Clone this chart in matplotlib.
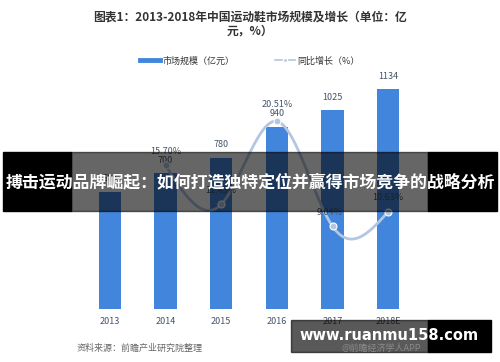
import numpy as np
import matplotlib
matplotlib.use("Agg")
import matplotlib.pyplot as plt
from matplotlib.patches import Rectangle
from matplotlib.lines import Line2D

plt.rcParams["font.family"] = ["Noto Sans CJK SC", "DejaVu Sans"]

years = ["2013", "2014", "2015", "2016", "2017", "2018E"]
market_size = [605, 700, 780, 940, 1025, 1134]
growth = [None, 15.70, 11.43, 20.51, 9.04, 10.63]
growth_labels = ["", "15.70%", "11.43%", "20.51%", "9.04%", "10.63%"]

BAR_C = "#4285dc"
LINE_C = "#b3c6e2"
LBL_C = "#44546a"


def natural_spline(x, y, n=200):
    x = np.asarray(x, float)
    y = np.asarray(y, float)
    k = len(x)
    h = np.diff(x)
    A = np.zeros((k, k))
    b = np.zeros(k)
    A[0, 0] = A[-1, -1] = 1
    for i in range(1, k - 1):
        A[i, i - 1] = h[i - 1]
        A[i, i] = 2 * (h[i - 1] + h[i])
        A[i, i + 1] = h[i]
        b[i] = 6 * ((y[i + 1] - y[i]) / h[i] - (y[i] - y[i - 1]) / h[i - 1])
    m = np.linalg.solve(A, b)
    xs = np.linspace(x[0], x[-1], n)
    ys = np.empty_like(xs)
    for j, t in enumerate(xs):
        i = min(np.searchsorted(x, t, side="right") - 1, k - 2)
        a = x[i + 1] - t
        c = t - x[i]
        ys[j] = (m[i] * a ** 3 + m[i + 1] * c ** 3) / (6 * h[i]) \
            + (y[i] / h[i] - m[i] * h[i] / 6) * a \
            + (y[i + 1] / h[i] - m[i + 1] * h[i] / 6) * c
    return xs, ys


fig = plt.figure(figsize=(5, 3.62), dpi=100)
W, H = 500, 362
ax = fig.add_axes([82 / W, 53 / H, 334 / W, 229 / H])
x = np.arange(len(years))
ax.bar(x, market_size, width=0.4, color=BAR_C, zorder=2)
ax.set_xlim(-0.5, 5.5)
ax.set_ylim(0, 1180)
for xi, v in zip(x, market_size):
    ax.annotate(str(v), (xi, v), xytext=(0, 6), textcoords="offset points",
                ha="center", va="bottom", fontsize=6.5, color=LBL_C)
ax.set_xticks(x)
ax.set_xticklabels(years, fontsize=6.5, color=LBL_C)
ax.tick_params(axis="x", length=0, pad=6)
ax.set_yticks([])
for s in ax.spines.values():
    s.set_visible(False)

ax2 = ax.twinx()
ax2.set_ylim(0, 25.03)
ax2.set_yticks([])
for s in ax2.spines.values():
    s.set_visible(False)
gx = [xi for xi, g in zip(x, growth) if g is not None]
gy = [g for g in growth if g is not None]
sx, sy = natural_spline(gx, gy)
ax2.plot(sx, sy, color=LINE_C, lw=2, zorder=3)
ax2.plot(gx, gy, "o", ms=5, color=LINE_C, mec="white", mew=0.8, zorder=4)
for xi, g, lab in zip(x, growth, growth_labels):
    if g is None:
        continue
    dy = 9 if g > 20 else 7
    ax2.annotate(lab, (xi, g), xytext=(-2 if g < 10 else 0, dy), textcoords="offset points",
                 ha="center", va="bottom", fontsize=6.5, color=LBL_C)

# title
fig.text(0.5, 1 - 17 / H, "图表1：2013-2018年中国运动鞋市场规模及增长（单位：亿",
         ha="center", va="center", fontsize=8.5, fontweight="bold", color="#333333")
fig.text(0.5, 1 - 31 / H, "元，%）", ha="center", va="center",
         fontsize=8.5, fontweight="bold", color="#333333")

# legend
handles = [Line2D([0], [0], color=BAR_C, lw=3.5),
           Line2D([0], [0], color=LINE_C, lw=1.2, marker="o", ms=3, mec="white")]
fig.legend(handles, ["市场规模（亿元）", "同比增长（%）"], loc="center",
           bbox_to_anchor=(0.5, 1 - 61 / H), ncol=2, frameon=False, fontsize=6.5,
           handlelength=2.2, handletextpad=0.3, columnspacing=4.5,
           labelcolor="#333333")

# source
fig.text(77 / W, 1 - 348 / H, "资料来源：前瞻产业研究院整理", ha="left", va="center",
         fontsize=6.5, style="italic", color="#666666")

# overlay banner
fig.patches.append(Rectangle((3 / W, 1 - 211 / H), 68 / W, 59 / H,
                             transform=fig.transFigure, color="black", zorder=10))
fig.patches.append(Rectangle((428 / W, 1 - 211 / H), 69 / W, 59 / H,
                             transform=fig.transFigure, color="black", zorder=10))
fig.patches.append(Rectangle((71 / W, 1 - 211 / H), 357 / W, 59 / H,
                             transform=fig.transFigure, color="black", alpha=0.6, zorder=11))
fig.text(0.5, 1 - 182 / H, "搏击运动品牌崛起：如何打造独特定位并赢得市场竞争的战略分析",
         ha="center", va="center", fontsize=12.2, fontweight="bold", color="white", zorder=12)

# bottom watermark
fig.patches.append(Rectangle((428 / W, 1 - 352 / H), 63 / W, 32 / H,
                             transform=fig.transFigure, color="black", zorder=10))
fig.patches.append(Rectangle((291 / W, 1 - 352 / H), 137 / W, 32 / H,
                             transform=fig.transFigure, color="black", alpha=0.65, zorder=11))
fig.text(381 / W, 1 - 348 / H, "@前瞻经济学人APP", ha="center", va="center",
         fontsize=6.5, color="#8a8a8a", zorder=12)
fig.text(389 / W, 1 - 336 / H, "www.ruanmu158.com", ha="center", va="center",
         fontsize=10.5, fontweight="bold", color="white", family="DejaVu Sans", zorder=12)

fig.savefig("out.png", dpi=100)
